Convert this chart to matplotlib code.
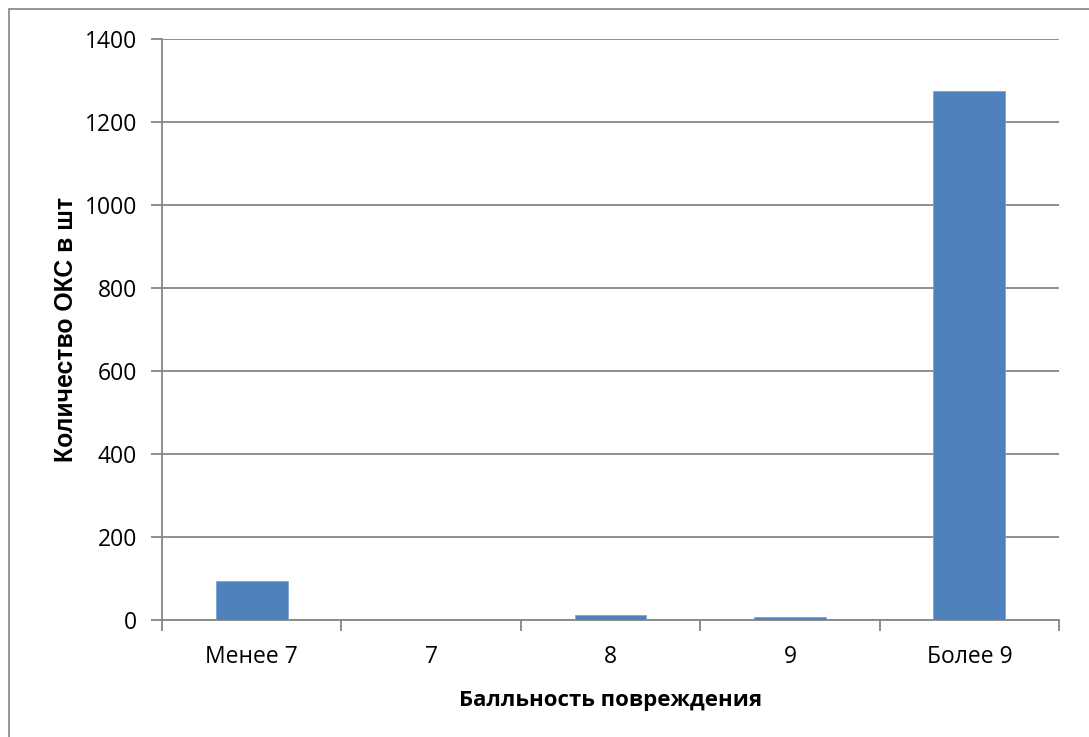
import matplotlib.pyplot as plt
from matplotlib.patches import Rectangle

# data
categories = ['Менее 7', '7', '8', '9', 'Более 9']
counts = [94, 0, 11, 8, 1275]
y_ticks = [0, 200, 400, 600, 800, 1000, 1200, 1400]

bar_color = '#4F81BD'
grid_color = '#868686'

fig = plt.figure(figsize=(10.89, 7.37), dpi=100)
ax = fig.add_axes([0.1488, 0.1588, 0.8237, 0.7883])

x = list(range(len(categories)))
ax.bar(x, counts, width=0.4, color=bar_color, edgecolor='#7FA3D3', linewidth=0.6, zorder=3)

ax.set_xlim(-0.5, len(categories) - 0.5)
ax.set_ylim(0, 1400)
ax.set_yticks(y_ticks)
ax.set_yticklabels([str(v) for v in y_ticks])
ax.set_xticks(x)
ax.set_xticklabels(categories)
# category boundary ticks
ax.set_xticks([i - 0.5 for i in range(len(categories) + 1)], minor=True)

ax.grid(True, axis='y', color=grid_color, linewidth=1.3, zorder=0)
for s in ['top', 'right']:
    ax.spines[s].set_visible(False)
for s in ['left', 'bottom']:
    ax.spines[s].set_color(grid_color)
    ax.spines[s].set_linewidth(1.3)

tick_font = ['Open Sans', 'DejaVu Sans']
ax.tick_params(axis='y', length=8, width=1.3, color=grid_color, pad=10, labelsize=16.5)
ax.tick_params(axis='x', which='major', length=0, pad=18, labelsize=16.5)
ax.tick_params(axis='x', which='minor', length=8, width=1.3, color=grid_color)
for lbl in ax.get_xticklabels() + ax.get_yticklabels():
    lbl.set_family(tick_font)

ax.set_xlabel('Балльность повреждения', family=['Open Sans', 'DejaVu Sans'],
              fontweight='bold', fontsize=16, labelpad=15)
ax.set_ylabel('Количество ОКС в шт', family=['Liberation Sans', 'DejaVu Sans'],
              fontweight='bold', fontsize=17.8, labelpad=5)

# outer chart frame
fig.patches.append(Rectangle((9 / 1089, -0.1), 1.2, 1.1 - 9 / 737,
                             transform=fig.transFigure, fill=False,
                             edgecolor='#8C8C8C', linewidth=1.3))

fig.savefig('out.png', dpi=100)
